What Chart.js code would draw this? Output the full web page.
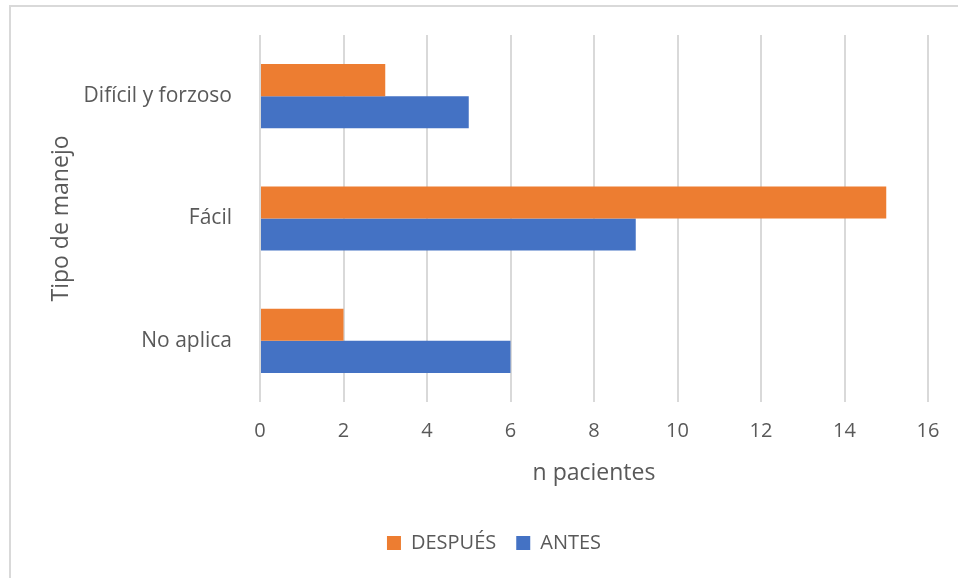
<!DOCTYPE html>
<html>
<head>
<meta charset="utf-8">
<script src="https://cdn.jsdelivr.net/npm/chart.js@4"></script>
<style>
    html, body { margin: 0; padding: 0; background: #fff; overflow: hidden; }
    #frame { position: absolute; left: 9px; top: 5px; width: 1200px; height: 900px; border: 2px solid #d9d9d9; }
    #barChart { position: absolute; left: 0; top: 0; }
</style>
</head>
<body>
<div id="frame"></div>
<canvas id="barChart" width="958" height="578"></canvas>
<script>
// categories (top to bottom)
const categories = ['Difícil y forzoso', 'Fácil', 'No aplica'];
// series
const despues = [3, 15, 2];
const antes = [5, 9, 6];
// x axis ticks
const xMin = 0;
const xMax = 16;
const xStep = 2;

const textColor = '#595959';
const fontFamily = '"Open Sans", sans-serif';

// the legend in the original sits a bit right of the canvas centre
const legendShift = {
    id: 'legendShift',
    afterLayout(chart) {
        chart.legend.left += 30;
        chart.legend.right += 30;
    }
};

window.onload = () => {
    const ctx = document.getElementById('barChart');
    new Chart(ctx, {
        type: 'bar',
        data: {
            labels: categories,
            datasets: [{
                label: 'DESPUÉS',
                data: despues,
                backgroundColor: '#ED7D31',
                borderWidth: 0
            }, {
                label: 'ANTES',
                data: antes,
                backgroundColor: '#4472C4',
                borderWidth: 0
            }]
        },
        plugins: [legendShift],
        options: {
            indexAxis: 'y',
            responsive: false,
            animation: false,
            categoryPercentage: 0.525,
            barPercentage: 1,
            layout: {
                padding: { left: 0, right: 30, top: 35, bottom: 15 }
            },
            plugins: {
                legend: {
                    position: 'bottom',
                    labels: {
                        boxWidth: 14,
                        boxHeight: 14,
                        padding: 20,
                        color: textColor,
                        font: { family: fontFamily, size: 20 }
                    }
                },
                tooltip: { enabled: false }
            },
            scales: {
                x: {
                    min: xMin,
                    max: xMax,
                    ticks: {
                        stepSize: xStep,
                        color: textColor,
                        padding: 17,
                        font: { family: fontFamily, size: 20 }
                    },
                    grid: {
                        color: '#d9d9d9',
                        lineWidth: 2,
                        drawTicks: false
                    },
                    border: { display: false },
                    title: {
                        display: true,
                        text: 'n pacientes',
                        color: textColor,
                        padding: { top: 0, bottom: 26 },
                        font: { family: fontFamily, size: 23 }
                    },
                    afterFit: (scale) => { scale.height = 111; }
                },
                y: {
                    ticks: {
                        color: textColor,
                        padding: 20,
                        font: { family: fontFamily, size: 21 }
                    },
                    grid: { display: false },
                    border: { display: false },
                    title: {
                        display: true,
                        text: 'Tipo de manejo',
                        color: textColor,
                        padding: { top: 48, bottom: 0 },
                        font: { family: fontFamily, size: 23 }
                    },
                    afterFit: (scale) => { scale.width = 260; }
                }
            }
        }
    });
};
</script>
</body>
</html>
